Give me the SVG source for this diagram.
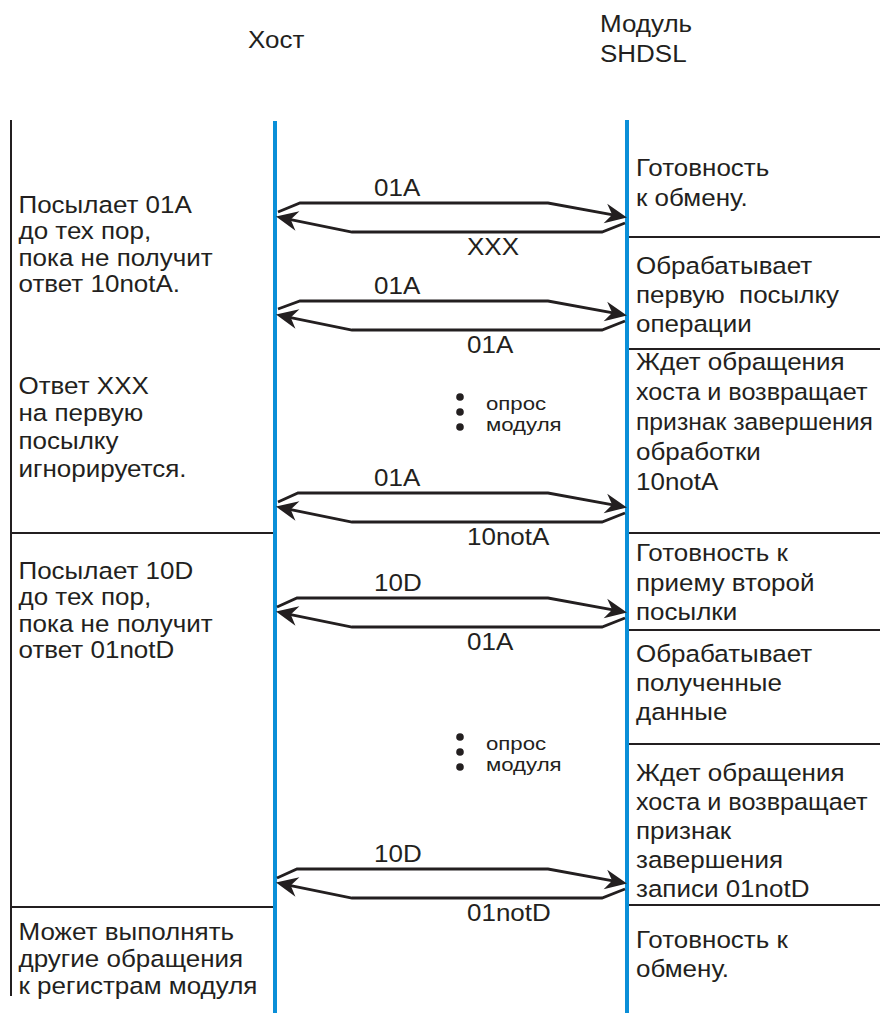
<svg xmlns="http://www.w3.org/2000/svg" width="880" height="1014" viewBox="0 0 880 1014">
  <style>
    .t { font-family: "Liberation Sans", Arial, sans-serif; font-size: 23.5px; fill: #231f20; }
    .s { font-size: 18.5px; }
    .life { stroke: #0a8fd8; stroke-width: 4; fill: none; }
    .rule { stroke: #231f20; stroke-width: 2; fill: none; }
    .msg { fill: none; stroke: #231f20; stroke-width: 2.8; stroke-linejoin: miter; marker-end: url(#ah); }
    .dot { fill: #231f20; }
  </style>
  <defs>
    <marker id="ah" markerUnits="userSpaceOnUse" orient="auto" refX="0" refY="0" markerWidth="30" markerHeight="30" viewBox="-12 -10 24 20" overflow="visible">
      <path d="M8,0 L-9.5,-8 L-4,0 L-9.5,8 Z" fill="#231f20"/>
    </marker>
  </defs>
  <rect width="880" height="1014" fill="#ffffff"/>

  <!-- column headers -->
  <g id="host-header" class="t" transform="translate(248 0) scale(1.106 1)">
    <text x="0" y="48">Хост</text>
  </g>
  <g id="module-header" class="t" transform="translate(600 0) scale(1.106 1)">
    <text x="0" y="32">Модуль</text>
    <text x="0" y="62">SHDSL</text>
  </g>

  <!-- lifelines and frame rules -->
  <g id="lifelines">
    <line class="life" x1="275" y1="121" x2="275" y2="1013"/>
    <line class="life" x1="627" y1="120" x2="627" y2="1013"/>
  </g>
  <g id="rules">
    <line class="rule" x1="11" y1="120" x2="11" y2="996"/>
    <line class="rule" x1="11" y1="533" x2="273" y2="533"/>
    <line class="rule" x1="11" y1="907" x2="273" y2="907"/>
    <line class="rule" x1="629" y1="237" x2="880" y2="237"/>
    <line class="rule" x1="629" y1="349" x2="880" y2="349"/>
    <line class="rule" x1="629" y1="533" x2="880" y2="533"/>
    <line class="rule" x1="629" y1="630" x2="880" y2="630"/>
    <line class="rule" x1="629" y1="744" x2="880" y2="744"/>
    <line class="rule" x1="629" y1="905" x2="880" y2="905"/>
  </g>

  <!-- host side notes -->
  <g id="host-send-01A" class="t" transform="translate(18.5 0) scale(1.106 1)">
    <text x="0" y="213">Посылает 01A</text>
    <text x="0" y="239">до тех пор,</text>
    <text x="0" y="266">пока не получит</text>
    <text x="0" y="292">ответ 10notA.</text>
  </g>
  <g id="host-ignore-xxx" class="t" transform="translate(18.5 0) scale(1.106 1)">
    <text x="0" y="394">Ответ XXX</text>
    <text x="0" y="421">на первую</text>
    <text x="0" y="449">посылку</text>
    <text x="0" y="477">игнорируется.</text>
  </g>
  <g id="host-send-10D" class="t" transform="translate(18.5 0) scale(1.106 1)">
    <text x="0" y="579">Посылает 10D</text>
    <text x="0" y="605">до тех пор,</text>
    <text x="0" y="632">пока не получит</text>
    <text x="0" y="658">ответ 01notD</text>
  </g>
  <g id="host-free" class="t" transform="translate(18.5 0) scale(1.106 1)">
    <text x="0" y="940">Может выполнять</text>
    <text x="0" y="967">другие обращения</text>
    <text x="0" y="994">к регистрам модуля</text>
  </g>

  <!-- module side notes -->
  <g id="mod-ready-1" class="t" transform="translate(636 0) scale(1.106 1)">
    <text x="0" y="176">Готовность</text>
    <text x="0" y="206">к обмену.</text>
  </g>
  <g id="mod-process-1" class="t" transform="translate(636 0) scale(1.106 1)">
    <text x="0" y="274">Обрабатывает</text>
    <text x="0" y="303" xml:space="preserve">первую  посылку</text>
    <text x="0" y="332">операции</text>
  </g>
  <g id="mod-wait-1" class="t" transform="translate(636 0) scale(1.106 1)">
    <text x="0" y="370">Ждет обращения</text>
    <text x="0" y="400" transform="scale(0.97 1)">хоста и возвращает</text>
    <text x="0" y="430" transform="scale(0.95 1)">признак завершения</text>
    <text x="0" y="460">обработки</text>
    <text x="0" y="490">10notA</text>
  </g>
  <g id="mod-ready-2" class="t" transform="translate(636 0) scale(1.106 1)">
    <text x="0" y="561">Готовность к</text>
    <text x="0" y="591">приему второй</text>
    <text x="0" y="620">посылки</text>
  </g>
  <g id="mod-process-2" class="t" transform="translate(636 0) scale(1.106 1)">
    <text x="0" y="662">Обрабатывает</text>
    <text x="0" y="691">полученные</text>
    <text x="0" y="720">данные</text>
  </g>
  <g id="mod-wait-2" class="t" transform="translate(636 0) scale(1.106 1)">
    <text x="0" y="781">Ждет обращения</text>
    <text x="0" y="810" transform="scale(0.97 1)">хоста и возвращает</text>
    <text x="0" y="839">признак</text>
    <text x="0" y="868">завершения</text>
    <text x="0" y="897">записи 01notD</text>
  </g>
  <g id="mod-ready-3" class="t" transform="translate(636 0) scale(1.106 1)">
    <text x="0" y="948">Готовность к</text>
    <text x="0" y="977">обмену.</text>
  </g>

  <!-- polling marks -->
  <g id="poll-1">
    <circle class="dot" cx="460" cy="397" r="3.8"/>
    <circle class="dot" cx="460" cy="412" r="3.8"/>
    <circle class="dot" cx="460" cy="427" r="3.8"/>
    <g class="t s" transform="translate(486 0) scale(1.2 1)">
      <text x="0" y="410">опрос</text>
      <text x="0" y="431">модуля</text>
    </g>
  </g>
  <g id="poll-2">
    <circle class="dot" cx="460" cy="737" r="3.8"/>
    <circle class="dot" cx="460" cy="752" r="3.8"/>
    <circle class="dot" cx="460" cy="767" r="3.8"/>
    <g class="t s" transform="translate(486 0) scale(1.2 1)">
      <text x="0" y="750">опрос</text>
      <text x="0" y="771">модуля</text>
    </g>
  </g>

  <!-- message exchanges: request to module above, reply to host below -->
  <g id="messages">
    <g transform="translate(0 203)">
      <path class="msg" d="M278,9 L300,0 L548,0 L617.1,12.6"/>
      <path class="msg" d="M625,20 L602,29 L352,29 L285.8,15.6"/>
    </g>
    <g transform="translate(0 301)">
      <path class="msg" d="M278,8 L300,0 L548,0 L617.1,12.6"/>
      <path class="msg" d="M625,20 L602,29 L352,29 L285.8,15.6"/>
    </g>
    <g transform="translate(0 493)">
      <path class="msg" d="M278,9 L298,0 L548,0 L617.1,12.6"/>
      <path class="msg" d="M625,20 L602,29 L352,29 L285.8,15.6"/>
    </g>
    <g transform="translate(0 598)">
      <path class="msg" d="M277,9 L297,0 L548,0 L617.1,12.6"/>
      <path class="msg" d="M625,20 L602,29 L352,29 L285.8,15.6"/>
    </g>
    <g transform="translate(0 869)">
      <path class="msg" d="M277,9 L297,0 L548,0 L617.1,12.6"/>
      <path class="msg" d="M625,20 L602,29 L352,29 L285.8,15.6"/>
    </g>
  </g>

  <!-- message labels -->
  <g id="message-labels" class="t">
    <g transform="translate(374 0) scale(1.106 1)">
      <text x="0" y="196">01A</text>
      <text x="0" y="294">01A</text>
      <text x="0" y="486">01A</text>
      <text x="0" y="591">10D</text>
      <text x="0" y="862">10D</text>
    </g>
    <g transform="translate(467 0) scale(1.106 1)">
      <text x="0" y="255">XXX</text>
      <text x="0" y="353">01A</text>
      <text x="0" y="545">10notA</text>
      <text x="0" y="650">01A</text>
      <text x="0" y="921">01notD</text>
    </g>
  </g>
</svg>
